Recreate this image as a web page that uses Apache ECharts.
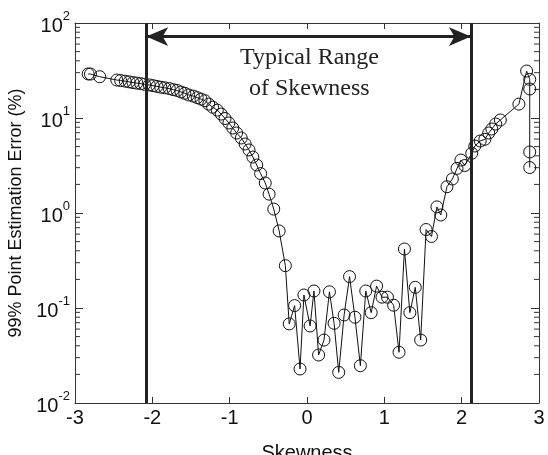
<!DOCTYPE html>
<html>
<head>
<meta charset="utf-8">
<script src="https://cdn.jsdelivr.net/npm/echarts@6/dist/echarts.min.js"></script>
<style>
  html, body { margin: 0; padding: 0; background: #fff; }
  #main { width: 548px; height: 455px; }
</style>
</head>
<body>
<div id="main"></div>
<script>
// skewness values (x)
var skewness = [
    -2.83, -2.80, -2.68,
    -2.46, -2.41, -2.35, -2.30, -2.25, -2.20, -2.15, -2.10, -2.04, -1.99, -1.94, -1.89,
    -1.84, -1.78, -1.73, -1.68, -1.63, -1.58, -1.53, -1.47, -1.42, -1.37, -1.32,
    -1.27, -1.22, -1.16, -1.11, -1.06, -1.01, -0.96, -0.91, -0.85, -0.80, -0.75, -0.70,
    -0.65, -0.60, -0.54, -0.49, -0.43, -0.36, -0.28, -0.23, -0.16, -0.09, -0.04,
    0.04, 0.09, 0.15, 0.22, 0.29, 0.35, 0.41, 0.48, 0.55, 0.62, 0.69, 0.76, 0.83,
    0.90, 0.97, 1.04, 1.12, 1.19, 1.26, 1.33, 1.40, 1.47, 1.54, 1.61, 1.68, 1.73,
    1.81, 1.88, 1.94, 1.99, 2.04, 2.13, 2.17, 2.24, 2.30, 2.35, 2.39, 2.44, 2.50,
    2.74, 2.84, 2.88, 2.88, 2.88, 2.88
];
// 99% point estimation error (%)
var errorPct = [
    29.1, 29.0, 27.2,
    25.1, 24.8, 24.4, 24.0, 23.6, 23.3, 23.0, 22.6, 22.3, 21.9, 21.5, 21.1,
    20.8, 20.4, 19.9, 19.5, 18.8, 18.2, 17.5, 17.0, 16.4, 15.8, 15.2,
    14.0, 13.0, 12.1, 11.0, 9.88, 8.86, 7.85, 6.95, 6.16, 5.33, 4.61, 3.88,
    3.20, 2.60, 2.07, 1.58, 1.10, 0.647, 0.279, 0.068, 0.106, 0.0228, 0.137,
    0.0647, 0.151, 0.032, 0.046, 0.148, 0.069, 0.021, 0.0844, 0.214, 0.080, 0.0247, 0.151, 0.0893,
    0.170, 0.130, 0.130, 0.107, 0.0342, 0.418, 0.0893, 0.165, 0.046, 0.670, 0.566, 1.16, 0.953,
    1.89, 2.28, 2.95, 3.61, 3.16, 4.25, 5.07, 5.73, 5.97, 6.95, 7.66, 8.64, 9.53,
    14.0, 31.2, 25.5, 20.2, 4.39, 3.01
];
// typical range of skewness
var rangeBounds = [-2.08, 2.12];
var arrowLevel = 72;
var yDecades = [0.01, 0.1, 1, 10, 100];
var yExponents = ['-2', '-1', '0', '1', '2'];

var points = skewness.map(function(x, i) { return [x, errorPct[i]]; });

// log minor ticks (2..9 of each decade) drawn on both sides of the box
var minorTicks = [];
for (var k = -2; k < 2; k++) {
    for (var m = 2; m <= 9; m++) {
        minorTicks.push([-3, m * Math.pow(10, k)]);
    }
}

var myChart = echarts.init(document.getElementById('main'));
var axisColor = '#333';
var font = 'Liberation Sans, Arial, sans-serif';
var serif = '24px "Liberation Serif", "Times New Roman", serif';

var option = {
    animation: false,
    backgroundColor: '#fff',
    grid: { left: 75, right: 9, top: 23, bottom: 52, outerBoundsMode: 'none', containLabel: false },
    xAxis: [{
        type: 'value',
        min: -3, max: 3, interval: 1,
        name: 'Skewness',
        nameLocation: 'middle',
        nameGap: 40,
        nameTextStyle: { color: '#111', fontSize: 20, fontFamily: font },
        axisLine: { onZero: false, lineStyle: { color: axisColor, width: 1 } },
        axisTick: { inside: true, length: 6, lineStyle: { color: axisColor } },
        axisLabel: { color: '#111', fontSize: 20, fontFamily: font, margin: 5 },
        splitLine: { show: false }
    }, {
        type: 'value',
        position: 'top',
        min: -3, max: 3, interval: 1,
        axisLine: { onZero: false, lineStyle: { color: axisColor, width: 1 } },
        axisTick: { inside: true, length: 6, lineStyle: { color: axisColor } },
        axisLabel: { show: false },
        splitLine: { show: false }
    }],
    yAxis: [{
        type: 'log',
        min: 0.01, max: 100, logBase: 10,
        name: '99% Point Estimation Error (%)',
        nameLocation: 'middle',
        nameGap: 42,
        nameTextStyle: { color: '#111', fontSize: 18, fontFamily: font },
        axisLine: { onZero: false, lineStyle: { color: axisColor, width: 1 } },
        axisTick: { inside: true, length: 8, lineStyle: { color: axisColor } },
        axisLabel: {
            color: '#111',
            margin: 5,
            formatter: function(v) {
                var i = yDecades.findIndex(function(d) { return Math.abs(d - v) / d < 1e-6; });
                if (i < 0) return '';
                return '{b|10}{s|' + yExponents[i] + '}';
            },
            rich: {
                b: { fontSize: 20, fontFamily: font, color: '#111', verticalAlign: 'bottom', padding: [6, 0, 0, 0] },
                s: { fontSize: 13, fontFamily: font, color: '#111', verticalAlign: 'top', padding: [0, 0, 10, 0] }
            }
        },
        splitLine: { show: false }
    }, {
        type: 'log',
        position: 'right',
        min: 0.01, max: 100, logBase: 10,
        axisLine: { onZero: false, lineStyle: { color: axisColor, width: 1 } },
        axisTick: { inside: true, length: 8, lineStyle: { color: axisColor } },
        axisLabel: { show: false },
        splitLine: { show: false }
    }],
    series: [{
        type: 'custom',
        silent: true,
        xAxisIndex: 0,
        yAxisIndex: 0,
        data: minorTicks,
        renderItem: function(params, api) {
            var v = api.value(1);
            var pl = api.coord([-3, v]);
            var pr = api.coord([3, v]);
            return {
                type: 'group',
                children: [
                    { type: 'line', shape: { x1: pl[0], y1: pl[1], x2: pl[0] + 5, y2: pl[1] }, style: { stroke: axisColor, lineWidth: 1 } },
                    { type: 'line', shape: { x1: pr[0] - 5, y1: pr[1], x2: pr[0], y2: pr[1] }, style: { stroke: axisColor, lineWidth: 1 } }
                ]
            };
        }
    }, {
        type: 'line',
        xAxisIndex: 0,
        yAxisIndex: 0,
        data: points,
        symbol: 'circle',
        symbolSize: 12,
        showAllSymbol: true,
        lineStyle: { color: '#111', width: 1 },
        itemStyle: { color: 'rgba(0,0,0,0)', borderColor: '#111', borderWidth: 1 },
        z: 3,
        markLine: {
            silent: true,
            animation: false,
            label: { show: false },
            data: [
                [{ coord: [rangeBounds[0], 0.01], symbol: 'none' }, { coord: [rangeBounds[0], 100], symbol: 'none', lineStyle: { color: '#222', width: 3, type: 'solid' } }],
                [{ coord: [rangeBounds[1], 0.01], symbol: 'none' }, { coord: [rangeBounds[1], 100], symbol: 'none', lineStyle: { color: '#222', width: 3, type: 'solid' } }],
                [{ coord: [rangeBounds[0], arrowLevel], symbol: 'arrow', symbolSize: [14, 22] }, { coord: [rangeBounds[1], arrowLevel], symbol: 'arrow', symbolSize: [14, 22], lineStyle: { color: '#222', width: 3, type: 'solid' } }]
            ]
        }
    }],
    graphic: [{
        type: 'text',
        left: 240, top: 46,
        style: { text: 'Typical Range', font: serif, fill: '#222' }
    }, {
        type: 'text',
        left: 249, top: 77,
        style: { text: 'of Skewness', font: serif, fill: '#222' }
    }]
};
myChart.setOption(option);
window.addEventListener('resize', function() {
    myChart.resize();
});
</script>
</body>
</html>
